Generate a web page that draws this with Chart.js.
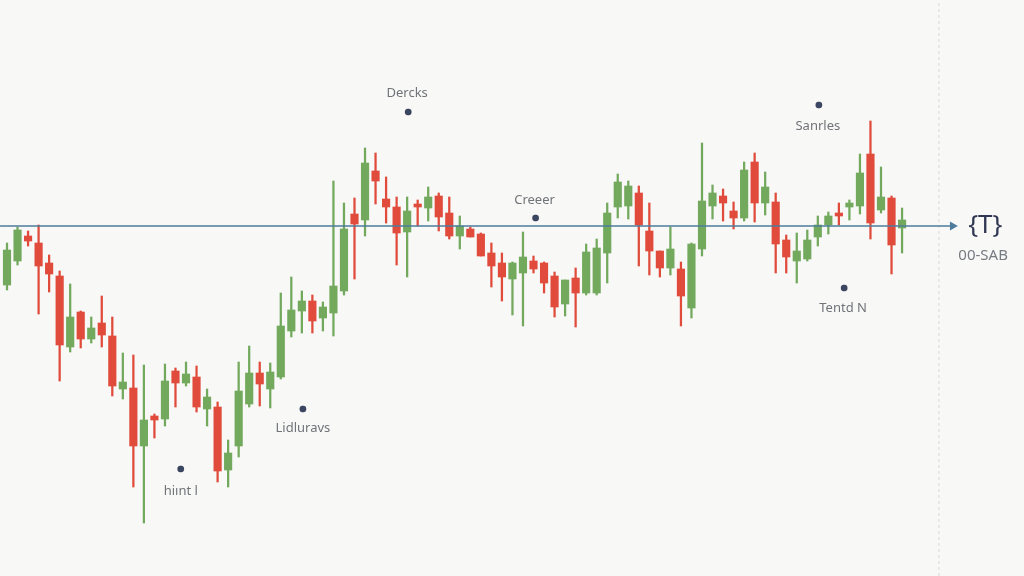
<!DOCTYPE html>
<html>
<head>
<meta charset="utf-8">
<title>Candles</title>
<script src="https://cdn.jsdelivr.net/npm/chart.js@4.4.1/dist/chart.umd.min.js"></script>
<style>
    body { margin: 0; background: #f8f8f7; }
    #wrap { width: 1024px; height: 576px; position: relative; }
</style>
</head>
<body>
<div id="wrap"><canvas id="chart"></canvas></div>
<script>
// ==========================
// Data
// ==========================
const opens  = [315,339,364,357,337,324,253,288,261,277,264,211,212,154,184,181,229,217,223,191,193,130,154,196,227,211,223,269,289,299,282,287,309,386,380,429,401,393,368,396,392,404,387,364,371,366,347,337,321,327,339,337,324,296,322,307,307,347,393,394,407,369,349,332,331,292,351,394,404,389,382,438,397,398,360,339,341,363,375,387,393,394,446,390,402,372];
const highs  = [357,373,369,375,345,329,316,289,283,304,283,247,245,235,186,236,232,238,234,211,198,160,238,254,238,237,307,323,309,305,298,419,397,402,452,447,423,403,403,400,413,407,403,384,373,367,357,347,338,368,344,338,328,320,332,356,361,397,426,419,414,397,349,373,338,357,457,415,411,398,438,447,428,407,365,367,370,384,388,397,400,446,479,433,404,392];
const lows   = [310,335,354,286,308,219,248,252,257,253,204,201,113,77,162,174,193,214,188,174,118,113,143,193,194,192,221,263,267,267,269,264,305,321,364,396,377,335,323,374,379,369,361,351,363,344,313,299,285,274,327,307,283,284,273,305,305,317,382,381,334,325,323,325,274,282,344,381,379,371,379,378,385,327,327,317,339,354,366,375,380,386,361,387,326,347];
const closes = [350,370,359,334,326,255,283,261,272,265,214,218,154,180,180,219,217,226,193,203,129,147,209,227,216,228,274,290,299,279,293,314,371,376,437,419,393,367,389,393,403,383,364,374,363,344,334,323,337,343,331,317,293,320,307,348,352,387,418,414,375,349,332,351,304,356,399,407,397,382,430,397,413,356,343,349,360,375,384,384,397,427,377,403,355,380];
const days = opens.map((_, i) => i);

const trendLevel = 374;
const trendFrom = -0.66;
const trendTo = 89.8;
const markerDay = 88.5;

const noteLabels = ["Dercks", "Creeer", "Sanrles", "Tentd N", "Lidluravs", "hiınt l"];
const noteDays   = [38.0, 50.1, 77.0, 79.4, 28.1, 16.5];
const noteValues = [507, 400, 474, 292, 172, 109];
const dotDays    = [38.1, 50.2, 77.1, 79.5, 28.1, 16.5];
const dotValues  = [488, 382, 495, 312, 191, 131];

const tagTitle = "{T}";
const tagSub = "00-SAB";

const UP = '#72a95d';
const DOWN = '#e04b3c';

const candleColors = days.map(i => closes[i] >= opens[i] ? UP : DOWN);

// ==========================
// Text plugin
// ==========================
const notesPlugin = {
    id: 'notes',
    afterDatasetsDraw(chart) {
        const { ctx, scales } = chart;
        ctx.save();
        ctx.textAlign = 'center';
        ctx.textBaseline = 'middle';
        ctx.fillStyle = '#707378';
        ctx.font = '13px "Noto Sans", sans-serif';
        noteLabels.forEach((t, i) => {
            ctx.fillText(t, scales.x.getPixelForValue(noteDays[i]), scales.y.getPixelForValue(noteValues[i]));
        });
        ctx.fillStyle = '#2f3752';
        ctx.font = '26px "Noto Sans", sans-serif';
        ctx.fillText(tagTitle, scales.x.getPixelForValue(92.9), scales.y.getPixelForValue(trendLevel));
        ctx.fillStyle = '#777b82';
        ctx.font = '15px "Noto Sans", sans-serif';
        ctx.fillText(tagSub, scales.x.getPixelForValue(92.7), scales.y.getPixelForValue(344));
        ctx.restore();
    }
};

// ==========================
// Chart
// ==========================
new Chart(document.getElementById('chart'), {
    type: 'bar',
    data: {
        datasets: [
            {
                type: 'line',
                data: [{ x: markerDay, y: 24 }, { x: markerDay, y: 600 }],
                borderColor: '#d9d9d9',
                borderWidth: 1,
                borderDash: [3, 3],
                pointRadius: 0,
                order: 5
            },
            {
                data: days.map(i => ({ x: i, y: [lows[i], highs[i]] })),
                backgroundColor: candleColors,
                barThickness: 1.6,
                grouped: false,
                order: 3
            },
            {
                data: days.map(i => ({ x: i, y: [opens[i], closes[i]] })),
                backgroundColor: candleColors,
                barThickness: 7.5,
                grouped: false,
                order: 2
            },
            {
                type: 'line',
                data: [{ x: trendFrom, y: trendLevel }, { x: trendTo, y: trendLevel }],
                borderColor: '#4d7c9c',
                backgroundColor: '#4d7c9c',
                borderWidth: 1.3,
                pointStyle: 'triangle',
                pointRotation: 90,
                pointRadius: ctx => ctx.dataIndex === 1 ? 4 : 0,
                order: 1
            },
            {
                type: 'scatter',
                data: dotDays.map((d, i) => ({ x: d, y: dotValues[i] })),
                backgroundColor: '#3b4663',
                pointRadius: 3.3,
                order: 0
            }
        ]
    },
    options: {
        responsive: true,
        maintainAspectRatio: false,
        animation: false,
        layout: { padding: 0, autoPadding: false },
        plugins: { legend: { display: false }, tooltip: { enabled: false } },
        scales: {
            x: { type: 'linear', min: -0.665, max: 96.58, offset: false, display: false },
            y: { min: 24, max: 600, display: false }
        }
    },
    plugins: [notesPlugin]
});
</script>
</body>
</html>
